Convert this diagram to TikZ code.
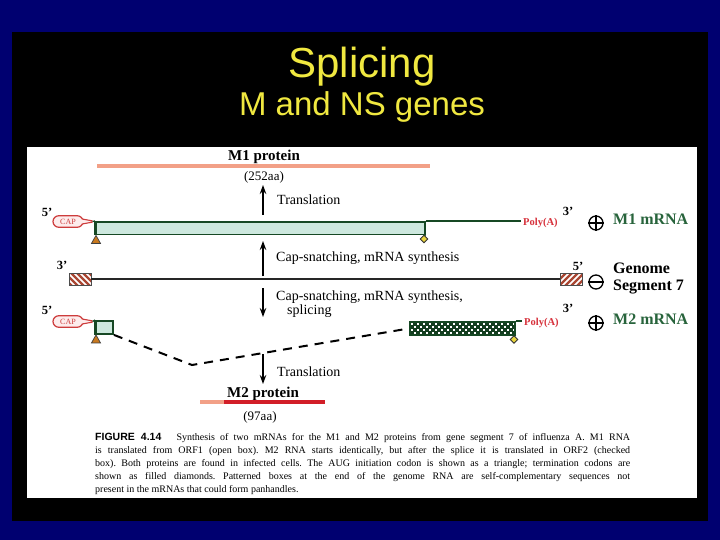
\documentclass[tikz,border=0pt]{standalone}
\usepackage{fontspec}
\usepackage{graphicx}
\setmainfont{Liberation Serif}
\newfontfamily\sansfam{Liberation Sans}
\usetikzlibrary{arrows.meta,shapes.misc,shapes.geometric,calc}
\definecolor{bgblue}{RGB}{0,0,112}
\definecolor{titleyellow}{RGB}{240,232,64}
\definecolor{mgreen}{RGB}{22,72,36}
\definecolor{mfill}{RGB}{205,232,222}
\definecolor{capred}{RGB}{205,60,60}
\definecolor{capfill}{RGB}{253,236,236}
\definecolor{salmon}{RGB}{242,160,135}
\definecolor{protred}{RGB}{210,30,40}
\definecolor{hatchred}{RGB}{170,70,50}
\definecolor{tricol}{RGB}{200,120,30}
\definecolor{diamcol}{RGB}{235,215,60}
\definecolor{labgreen}{RGB}{40,100,60}
\definecolor{polyred}{RGB}{215,50,60}
\tikzset{
  lab/.style={font=\fontsize{14}{16}\selectfont, inner sep=0},
  blab/.style={font=\fontsize{15}{17}\selectfont\bfseries, inner sep=0},
  endlab/.style={font=\fontsize{12.5}{14}\selectfont\bfseries, inner sep=0},
  rnalab/.style={font=\fontsize{16}{18}\selectfont\bfseries, inner sep=0},
  polylab/.style={font=\fontsize{10.5}{12}\selectfont\bfseries, text=polyred, inner sep=0},
  capnode/.style={rounded rectangle, draw=capred, fill=capfill, line width=1.2,
     minimum width=30, minimum height=11.5, inner sep=0,
     font=\fontsize{8}{9}\selectfont, text=capred},
  captail/.style={fill=capfill},
  capedge/.style={draw=capred, line width=1.1},
  mbox/.style={draw=mgreen, fill=mfill, line width=1.9, inner sep=0, anchor=north west},
  mline/.style={draw=mgreen, line width=1.3},
  startbar/.style={draw=mgreen, line width=2.8},
  codon/.style={fill=tricol, draw=black!75, line width=0.7},
  stopcodon/.style={diamond, draw=black!80, fill=diamcol, line width=0.9, minimum size=8, inner sep=0},
  hatchbox/.style={draw=black!70, fill=white, line width=0.9, minimum width=22, minimum height=12, inner sep=0},
  flow/.style={draw=black, line width=1.1, -{Stealth[length=9,width=6.5]}},
  splice/.style={draw=black, line width=2, dash pattern=on 9pt off 7pt},
  sign/.style={circle, draw=black, line width=1.3, minimum size=14, inner sep=0},
  capline/.style={font=\fontsize{10}{12}\selectfont, inner sep=0, anchor=base west}
}
\begin{document}
\begin{tikzpicture}[x=1pt,y=-1pt]
\useasboundingbox (0,0) rectangle (720,540);
\fill[bgblue] (0,0) rectangle (720,540);
\fill[black] (12,32) rectangle (708,521);
\fill[white] (27,147) rectangle (697,498);

% title
\node[font=\sansfam\fontsize{42}{46}\selectfont, text=titleyellow, anchor=base, inner sep=0] (t1) at (362,78) {Splicing};
\node[font=\sansfam\fontsize{33}{38}\selectfont, text=titleyellow, anchor=base, inner sep=0] (t2) at (362,116) {M and NS genes};

% M1 protein
\coordinate (m1pl) at (97,166);
\coordinate (m1pr) at (430,166);
\draw[salmon, line width=3.8] (m1pl) -- (m1pr);
\node[blab, anchor=base] (m1p) at (264,161) {M1 protein};
\node[lab, font=\fontsize{13}{15}\selectfont] (m1aa) at (264,177) {(252aa)};

% arrow 1
\coordinate (a1s) at (263,215);
\coordinate (a1e) at (263,185);
\draw[flow] (a1s) -- (a1e);
\node[lab, anchor=mid west] (tr1) at (277,202) {Translation};

% M1 mRNA
\node[endlab] (p5a) at (47,212) {5'};
\node[capnode] (cap1) at (68,221.5) {CAP};
\fill[captail] ($(cap1.east)+(-1.5,-2.5)$) -- ($(cap1.east)+(9,-0.6)$) -- ($(cap1.east)+(9,0.6)$) -- ($(cap1.east)+(-1.5,2.5)$) -- cycle;
\draw[capedge] ($(cap1.east)+(-1.5,-2.5)$) -- ($(cap1.east)+(9,-0.6)$) ($(cap1.east)+(-1.5,2.5)$) -- ($(cap1.east)+(9,0.6)$);
\node[mbox, minimum width=329, minimum height=12.5] (m1box) at (95,221) {};
\draw[mline] ($(cap1.east)+(9,0)$) -- (m1box.north west);
\draw[startbar] (m1box.north west) -- (m1box.south west);
\filldraw[codon] ($(m1box.south west)+(1,0)$) -- ++(4.5,8) -- ++(-9,0) -- cycle;
\node[stopcodon] (d1) at (424,239) {};
\draw[mline, line width=1.1] (m1box.south east) -- (d1.north);
\coordinate (m1end) at (521,221);
\draw[mline] (m1box.north east) -- (m1end);
\node[polylab, anchor=mid west] (pa1) at (523,223) {Poly(A)};
\node[endlab] (p3a) at (568,211) {3'};
\node[sign] (s1) at (596,223) {};
\draw[line width=1.3] (s1.north) -- (s1.south) (s1.west) -- (s1.east);
\node[rnalab, text=labgreen, anchor=mid west] (l1) at (613,222) {M1 mRNA};

% arrow 2
\coordinate (a2s) at (263,276);
\coordinate (a2e) at (263,241);
\draw[flow] (a2s) -- (a2e);
\node[lab, anchor=mid west] (cs1) at (276,259) {Cap-snatching, mRNA synthesis};

% genome
\node[endlab] (p3b) at (62,265) {3'};
\node[hatchbox, path picture={
  \foreach \i in {-16,-10,...,22} \draw[hatchred, line width=2.3] ([xshift=\i pt]path picture bounding box.north west) -- ++(14,14);
}] (g3) at (80,279) {};
\node[hatchbox, path picture={
  \foreach \i in {0,6,...,38} \draw[hatchred, line width=2.3] ([xshift=\i pt]path picture bounding box.north west) -- ++(-14,14);
}] (g5) at (571,279) {};
\draw[line width=1.8, black!85] (g3.east) -- (g5.west);
\node[endlab] (p5b) at (578,266) {5'};
\node[sign] (s2) at (596,282) {};
\draw[line width=1.3] (s2.west) -- (s2.east);
\node[rnalab, anchor=mid west] (l2a) at (613,271) {Genome};
\node[rnalab, anchor=mid west] (l2b) at (613,288) {Segment 7};

% arrow 3
\coordinate (a3s) at (263,288);
\coordinate (a3e) at (263,317);
\draw[flow] (a3s) -- (a3e);
\node[lab, anchor=mid west] (cs2) at (276,298) {Cap-snatching, mRNA synthesis,};
\node[lab, anchor=mid west] (cs3) at (287,312) {splicing};

% M2 mRNA
\node[endlab] (p5c) at (47,310) {5'};
\node[capnode] (cap2) at (68,321.5) {CAP};
\fill[captail] ($(cap2.east)+(-1.5,-2.5)$) -- ($(cap2.east)+(9,-0.6)$) -- ($(cap2.east)+(9,0.6)$) -- ($(cap2.east)+(-1.5,2.5)$) -- cycle;
\draw[capedge] ($(cap2.east)+(-1.5,-2.5)$) -- ($(cap2.east)+(9,-0.6)$) ($(cap2.east)+(-1.5,2.5)$) -- ($(cap2.east)+(9,0.6)$);
\node[mbox, minimum width=17, minimum height=13] (m2s) at (95,320) {};
\draw[mline] ($(cap2.east)+(9,0)$) -- (m2s.north west);
\draw[startbar] (m2s.north west) -- (m2s.south west);
\filldraw[codon] ($(m2s.south west)+(1,0)$) -- ++(4.5,8) -- ++(-9,0) -- cycle;
\node[mbox, fill=mgreen!85!black, minimum width=105, minimum height=13, path picture={
  \foreach \j in {0,2} \foreach \i in {0,2,...,34}
    \fill[white] ([shift={({1+3*\i},{0.6+3*\j})}]path picture bounding box.north west) rectangle ++(2,2);
  \foreach \j in {1,3} \foreach \i in {1,3,...,33}
    \fill[white] ([shift={({1+3*\i},{0.6+3*\j})}]path picture bounding box.north west) rectangle ++(2,2);
}] (m2b) at (409,321) {};
\coordinate (vpt) at (192,365);
\draw[splice] (m2s.south east) -- (vpt) -- (m2b.west);
\node[stopcodon] (d2) at (514,339.5) {};
\draw[mline, line width=1.1] (m2b.south east) -- (d2.north);
\coordinate (m2end) at (522,321);
\draw[mline] (m2b.north east) -- (m2end);
\node[polylab, anchor=mid west] (pa2) at (524,323) {Poly(A)};
\node[endlab] (p3c) at (568,308) {3'};
\node[sign] (s3) at (596,323) {};
\draw[line width=1.3] (s3.north) -- (s3.south) (s3.west) -- (s3.east);
\node[rnalab, text=labgreen, anchor=mid west] (l3) at (613,322) {M2 mRNA};

% arrow 4
\coordinate (a4s) at (263,354);
\coordinate (a4e) at (263,384);
\draw[flow] (a4s) -- (a4e);
\node[lab, anchor=mid west] (tr2) at (277,374) {Translation};

% M2 protein
\node[blab, anchor=base] (m2p) at (263,397) {M2 protein};
\coordinate (m2pl) at (200,402);
\coordinate (m2pm) at (224,402);
\coordinate (m2pr) at (325,402);
\draw[salmon, line width=3.8] (m2pl) -- (m2pm);
\draw[protred, line width=3.8] (m2pm) -- (m2pr);
\node[lab, font=\fontsize{13}{15}\selectfont] (m2aa) at (260,417) {(97aa)};

% caption
\node[capline] (c1) at (95,440) {\frenchspacing\makebox[535pt][s]{{\sansfam\bfseries\fontsize{10.5}{12}\selectfont FIGURE 4.14}\hspace{10pt} Synthesis of two mRNAs for the M1 and M2 proteins from gene segment 7 of influenza A. M1 RNA}};
\node[capline] (c2) at (95,453) {\frenchspacing\makebox[535pt][s]{is translated from ORF1 (open box). M2 RNA starts identically, but after the splice it is translated in ORF2 (checked}};
\node[capline] (c3) at (95,466) {\frenchspacing\makebox[535pt][s]{box). Both proteins are found in infected cells. The AUG initiation codon is shown as a triangle; termination codons are}};
\node[capline] (c4) at (95,479) {\frenchspacing\makebox[535pt][s]{shown as filled diamonds. Patterned boxes at the end of the genome RNA are self-complementary sequences not}};
\node[capline] (c5) at (95,492) {\frenchspacing present in the mRNAs that could form panhandles.};
\end{tikzpicture}
\end{document}
